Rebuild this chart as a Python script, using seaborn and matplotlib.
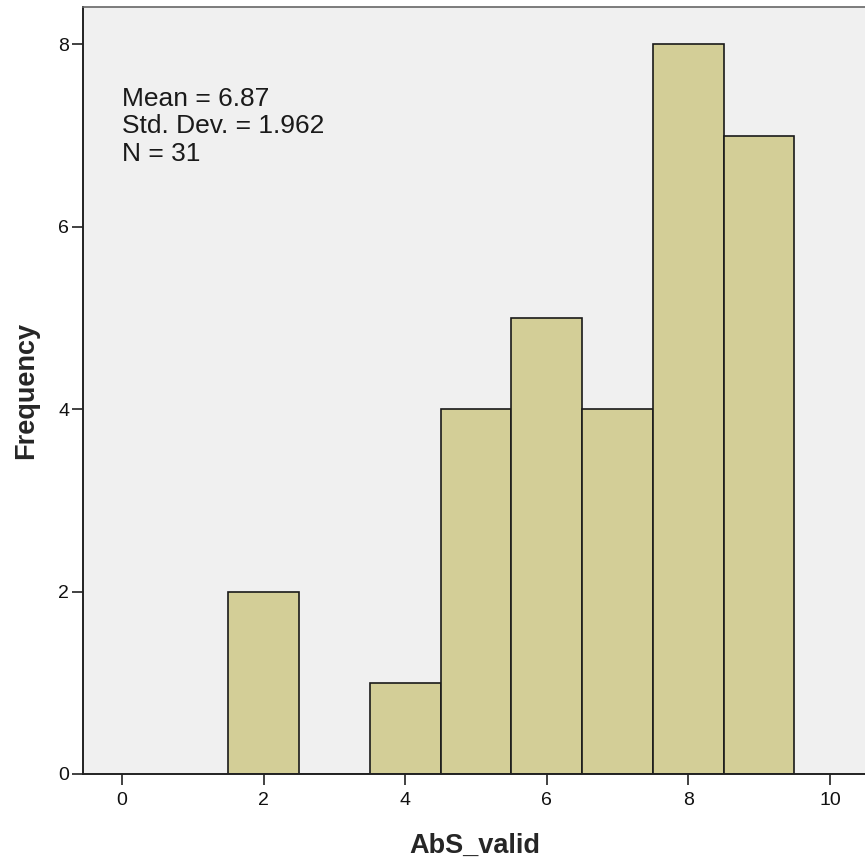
import numpy as np
import matplotlib.pyplot as plt
import seaborn as sns

# SPSS-like histogram of AbS_valid
sns.set_theme(style="white")
plt.rcParams["font.family"] = ["Liberation Sans", "DejaVu Sans"]

scores = [2, 4, 5, 6, 7, 8, 9]
counts = [2, 1, 4, 5, 4, 8, 7]
x_ticks = [0, 2, 4, 6, 8, 10]
y_ticks = [0, 2, 4, 6, 8]

BAR_COLOR = "#D3CE97"
BG_COLOR = "#F0F0F0"

# summary stats from the frequency table
vals = np.repeat(scores, counts)
mean = vals.mean()
sd = vals.std(ddof=1)
n = len(vals)

W, H = 865, 859
fig = plt.figure(figsize=(W / 100, H / 100), dpi=100)
ax = fig.add_axes([83 / W, 1 - 774 / H, (866 - 83) / W, (774 - 7) / H])
ax.set_facecolor(BG_COLOR)

sns.histplot(x=scores, weights=counts, discrete=True, ax=ax,
             color=BAR_COLOR, alpha=1, edgecolor="#1a1a1a", linewidth=1.2)

ax.set_xlim(-0.55, 10.51)
ax.set_ylim(0, 8.41)
ax.set_xticks(x_ticks)
ax.set_yticks(y_ticks)
ax.tick_params(axis="both", direction="out", length=8, width=1.3,
               colors="#333333", labelsize=14, labelcolor="#111111",
               bottom=True, left=True)
ax.tick_params(axis="y", pad=2)
ax.tick_params(axis="x", pad=5)

for side in ["left", "bottom"]:
    ax.spines[side].set_color("#222222")
    ax.spines[side].set_linewidth(1.4)
ax.spines["top"].set_color("#666666")
ax.spines["top"].set_linewidth(1.2)
ax.spines["right"].set_visible(False)

ax.set_xlabel("AbS_valid", fontsize=19.5, fontweight="bold", labelpad=17)
ax.set_ylabel("Frequency", fontsize=19.5, fontweight="bold", labelpad=14)

ax.text(0.0, 7.53, f"Mean = {mean:.2f}\nStd. Dev. = {sd:.3f}\nN = {n}",
        fontsize=19, va="top", ha="left", linespacing=1.17, color="#1a1a1a")

fig.savefig("out.png", dpi=100)
